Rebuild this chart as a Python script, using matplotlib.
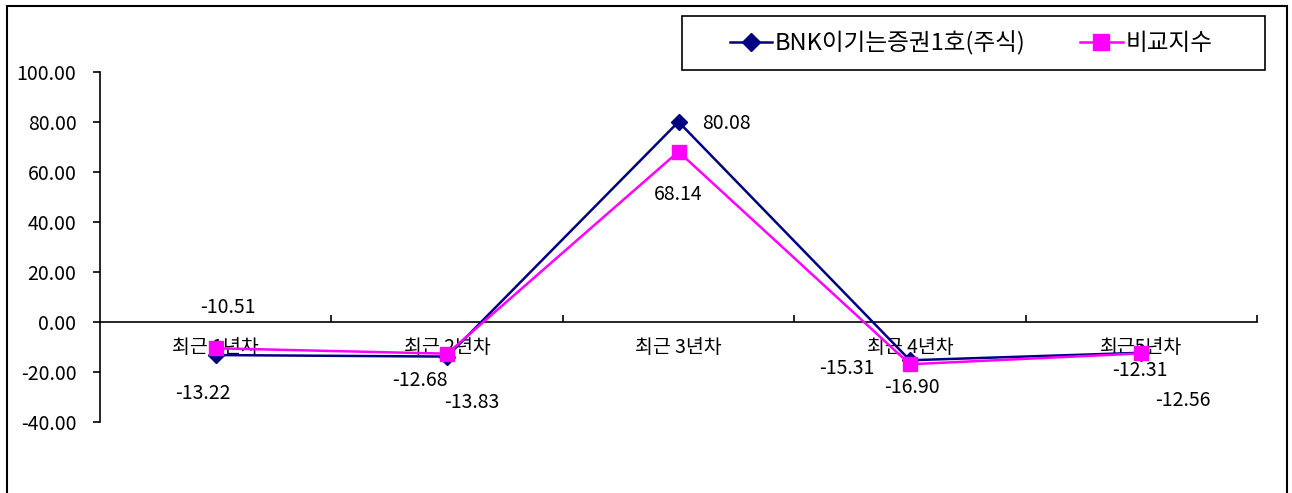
import matplotlib.pyplot as plt
from matplotlib.patches import Rectangle

plt.rcParams['font.family'] = ['Noto Sans CJK KR', 'DejaVu Sans']

# data
categories = ['최근 1년차', '최근 2년차', '최근 3년차', '최근 4년차', '최근5년차']
fund_name = 'BNK이기는증권1호(주식)'
bench_name = '비교지수'
fund = [-13.22, -13.83, 80.08, -15.31, -12.31]
bench = [-10.51, -12.68, 68.14, -16.90, -12.56]

# label offsets in pixels (dx, dy)
fund_off = [(-13, -38), (25, -46), (48, -2), (-63, -8), (-1, -18)]
bench_off = [(12, 41), (-27, -27), (0, -43), (2, -23), (42, -47)]

W, H = 1292, 493
fs = 14
fig = plt.figure(figsize=(W / 100, H / 100), dpi=100)
ax = fig.add_axes([100 / W, 71 / H, 1157 / W, 350 / H])

x = list(range(len(categories)))
ax.plot(x, fund, color='#000080', lw=1.8, marker='D', ms=8, label=fund_name, zorder=3)
ax.plot(x, bench, color='#FF00FF', lw=1.8, marker='s', ms=9.5, label=bench_name, zorder=4)

for i in x:
    ax.annotate('%.2f' % fund[i], (i, fund[i]), xytext=fund_off[i], textcoords='offset pixels',
                ha='center', va='center', fontsize=fs)
    ax.annotate('%.2f' % bench[i], (i, bench[i]), xytext=bench_off[i], textcoords='offset pixels',
                ha='center', va='center', fontsize=fs)

ax.set_xlim(-0.5, len(categories) - 0.5)
ax.set_ylim(-40, 100)
ax.set_yticks(range(-40, 101, 20))
ax.set_yticklabels(['%.2f' % v for v in range(-40, 101, 20)], fontsize=fs)

ax.spines['top'].set_visible(False)
ax.spines['right'].set_visible(False)
ax.spines['bottom'].set_position(('data', 0))
ax.spines['left'].set_linewidth(1.2)
ax.spines['bottom'].set_linewidth(1.2)

ax.set_xticks([i + 0.5 for i in x])
ax.set_xticklabels([])
ax.tick_params(axis='x', which='major', direction='in', length=5, width=1.2)
ax.set_xticks(x, minor=True)
ax.set_xticklabels(categories, minor=True, fontsize=fs)
ax.tick_params(axis='x', which='minor', length=0, pad=11)
ax.tick_params(axis='y', direction='out', length=5, width=1.2, pad=12)

# legend with its own box
fig.legend(loc='center', bbox_to_anchor=(971 / W, (H - 43) / H), ncol=2, fontsize=17,
           frameon=False, handlelength=1.8, handletextpad=0.12, columnspacing=2.3,
           markerscale=1.15)
fig.patches.append(Rectangle((682 / W, (H - 70) / H), 583 / W, 54 / H, transform=fig.transFigure,
                             fill=False, edgecolor='black', lw=1.2))

# outer chart border
fig.patches.append(Rectangle((7 / W, -0.02), 1280 / W, 1 - 6 / H + 0.02, transform=fig.transFigure,
                             fill=False, edgecolor='black', lw=1.5))

fig.savefig('out.png', dpi=100)
